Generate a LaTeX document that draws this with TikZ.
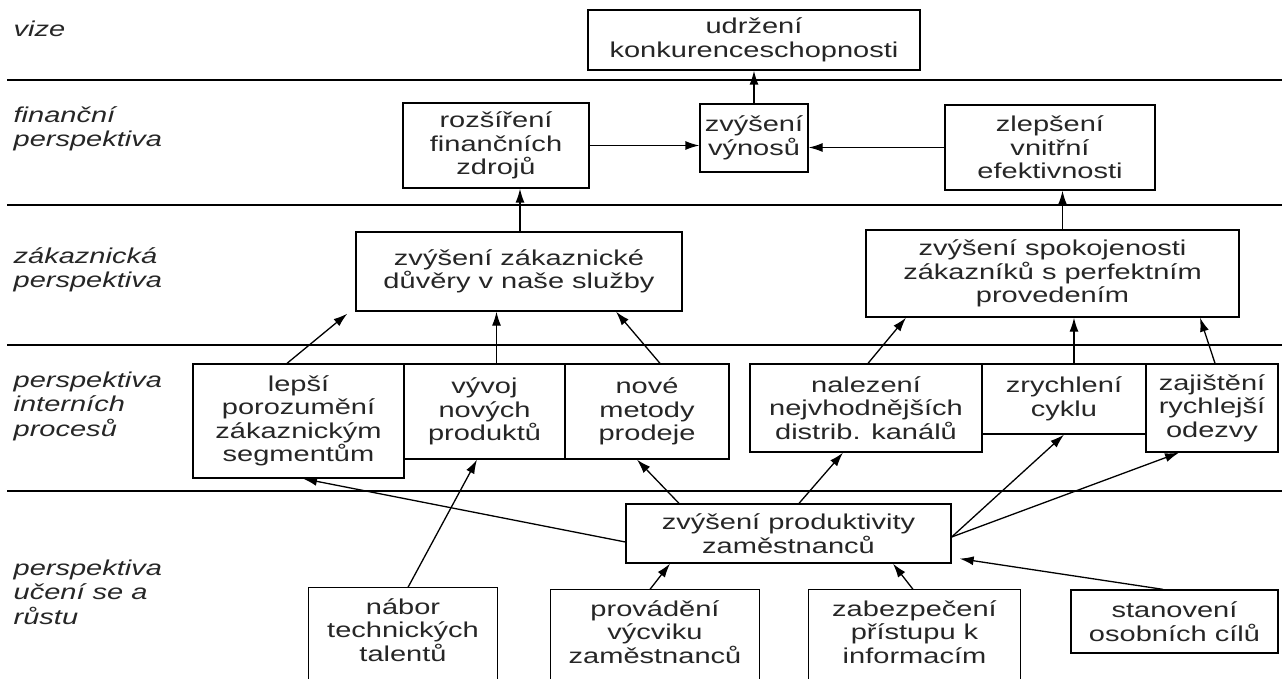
\documentclass[tikz,border=0pt]{standalone}
\usepackage{fontspec}
\setmainfont{Liberation Sans}[FakeStretch=1.35]
\usetikzlibrary{arrows.meta}
\begin{document}
\begin{tikzpicture}[
		x=1pt, y=-1pt,
		line width=1.3pt,
		plain/.style={align=center, inner sep=0pt, text=black!85, font=\fontsize{21.5}{23.5}\selectfont},
		box/.style={plain, draw},
		side/.style={anchor=west, align=left, inner sep=0pt, text=black!85, font=\fontsize{21.5}{24.5}\selectfont\itshape},
		arr/.style={-{Latex[length=14pt,width=9pt]}}
	]
	\useasboundingbox (0,0) rectangle (1282,679);
	\clip (0,0) rectangle (1282,679);
	\foreach \y in {80,205,345,491}
		\draw[line width=1.5pt] (7,\y) -- (1282,\y);

	\node[side] (lvize) at (13,29) {vize};
	\node[side] (lfin) at (13,129) {finanční\\perspektiva};
	\node[side] (lzak) at (13,270) {zákaznická\\perspektiva};
	\node[side] (lint) at (13,406) {perspektiva\\interních\\procesů};
	\node[side] (luc) at (13,592) {perspektiva\\učení se a\\růstu};

	\node[box, minimum width=332pt, minimum height=60pt] (udr) at (754,40) {udržení\\konkurenceschopnosti};
	\node[box, minimum width=186pt, minimum height=85pt] (ros) at (496,145.5) {rozšíření\\finančních\\zdrojů};
	\node[box, minimum width=108pt, minimum height=68pt] (vyn) at (754,138) {zvýšení\\výnosů};
	\node[box, minimum width=210pt, minimum height=85pt] (zle) at (1050,147.5) {zlepšení\\vnitřní\\efektivnosti};
	\node[box, minimum width=326pt, minimum height=79pt] (duv) at (519,271.5) {zvýšení zákaznické\\důvěry v naše služby};
	\node[box, minimum width=373pt, minimum height=87pt] (spo) at (1052.5,273.5) {zvýšení spokojenosti\\zákazníků s perfektním\\provedením};
	\node[box, minimum width=211pt, minimum height=114pt] (lep) at (298.5,421) {lepší\\porozumění\\zákaznickým\\segmentům};
	\node[box, minimum width=161pt, minimum height=95pt] (vyv) at (484.5,411.5) {vývoj\\nových\\produktů};
	\node[box, minimum width=164pt, minimum height=95pt] (nov) at (647,411.5) {nové\\metody\\prodeje};
	\node[box, minimum width=232pt, minimum height=88pt] (nal) at (866,408) {nalezení\\nejvhodnějších\\distrib. kanálů};
	\node[box, minimum width=164pt, minimum height=70pt] (zry) at (1064,399) {zrychlení\\cyklu};
	\node[box, minimum width=132pt, minimum height=88pt] (zaj) at (1212,408) {zajištění\\rychlejší\\odezvy};
	\node[box, minimum width=325pt, minimum height=59pt] (pro) at (788.5,533.5) {zvýšení produktivity\\zaměstnanců};
	\node[plain, minimum width=188pt, minimum height=84pt] (nab) at (403,630) {nábor\\technických\\talentů};
	\node[plain, minimum width=208pt, minimum height=84pt] (vyc) at (655,632) {provádění\\výcviku\\zaměstnanců};
	\node[plain, minimum width=211pt, minimum height=84pt] (zab) at (914.5,632) {zabezpečení\\přístupu k\\informacím};
	\node[box, minimum width=207pt, minimum height=63pt] (sta) at (1174.5,621.5) {stanovení\\osobních cílů};
	\foreach \n in {nab,vyc,zab}
		\draw ([yshift=-60pt]\n.south west) |- (\n.north east) -- ([yshift=-60pt]\n.south east);

	\draw[arr] (vyn) -- (udr);
	\draw[arr] (ros.east) -- (ros.east -| vyn.west);
	\draw[arr] (zle.west) -- (zle.west -| vyn.east);
	\draw[arr] ([xshift=1pt]duv.north) -- ([xshift=1pt]duv.north |- ros.south);
	\draw[arr] ([xshift=10pt]spo.north) -- ([xshift=10pt]spo.north |- zle.south);
	\draw[arr] ([xshift=-11.5pt]lep.north) -- ([xshift=-8pt,yshift=-2pt]duv.south west);
	\draw[arr] ([xshift=12pt]vyv.north) -- ([xshift=12pt]vyv.north |- duv.south);
	\draw[arr] ([xshift=13pt]nov.north) -- ([xshift=97pt]duv.south);
	\draw[arr] ([xshift=2pt]nal.north) -- ([xshift=-146.5pt]spo.south);
	\draw[arr] ([xshift=10pt]zry.north) -- ([xshift=10pt]zry.north |- spo.south);
	\draw[arr] ([xshift=3pt]zaj.north) -- ([xshift=147.5pt]spo.south);
	\draw[arr] ([yshift=-8.5pt]pro.west) -- ([xshift=4.5pt]lep.south);
	\draw[arr] ([xshift=5pt]nab.north) -- ([xshift=-7.5pt]vyv.south);
	\draw[arr] ([xshift=-109.5pt]pro.north) -- ([xshift=-10pt]nov.south);
	\draw[arr] ([xshift=10.5pt]pro.north) -- ([xshift=-23pt]nal.south);
	\draw[arr] ([yshift=-3.5pt]pro.east) -- (zry.south);
	\draw[arr] ([yshift=-3.5pt]pro.east) -- ([xshift=-33pt]zaj.south);
	\draw[arr] ([xshift=-5pt]vyc.north) -- ([xshift=-118.5pt]pro.south);
	\draw[arr] ([xshift=-1.5pt]zab.north) -- ([xshift=104.5pt]pro.south);
	\draw[arr] ([xshift=-11.5pt]sta.north) -- ([xshift=8pt,yshift=5pt]pro.south east);
\end{tikzpicture}
\end{document}
